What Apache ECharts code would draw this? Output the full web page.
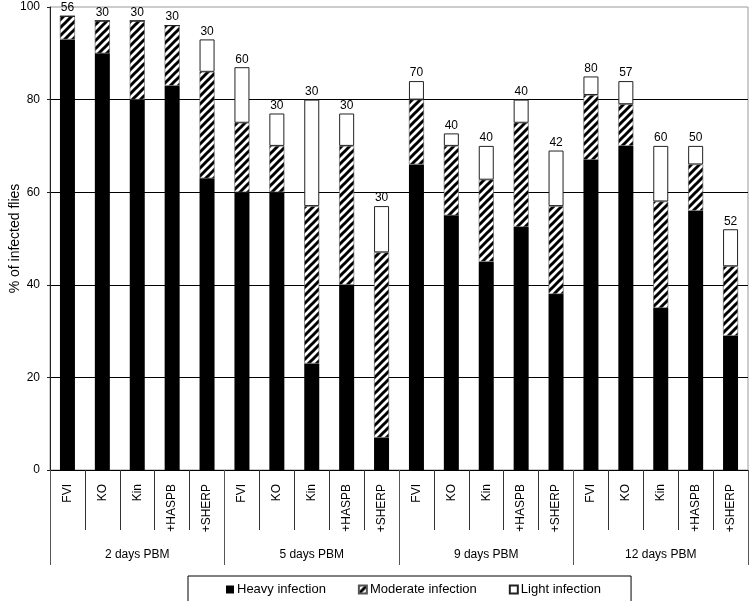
<!DOCTYPE html>
<html>
<head>
<meta charset="utf-8">
<style>html,body{margin:0;padding:0;background:#fff;}#chart{width:750px;height:601px;}</style>
<script src="https://cdn.jsdelivr.net/npm/echarts@6/dist/echarts.min.js"></script>
</head>
<body>
<div id="chart"></div>
<script>
// ---- data ----
const categories = ['FVI','KO','Kin','+HASPB','+SHERP','FVI','KO','Kin','+HASPB','+SHERP','FVI','KO','Kin','+HASPB','+SHERP','FVI','KO','Kin','+HASPB','+SHERP'];
const groups = ['2 days PBM','5 days PBM','9 days PBM','12 days PBM'];
const heavy    = [93,90,80,83,63, 60,60,23,40,7, 66,55,45,52.5,38, 67,70,35,56,29];
const moderate = [5,7,17,13,23, 15,10,34,30,40, 14,15,17.7,22.5,19, 14,9,23,10,15];
const light    = [0,0,0,0,7, 12,7,23,7,10, 4,2.7,7.3,5,12, 4,5,12,4,8];
const nFlies   = [56,30,30,30,30, 60,30,30,30,30, 70,40,40,40,42, 80,57,60,50,52];
const yTicks = [0,20,40,60,80,100];

// hatch pattern
const pc = document.createElement('canvas');
pc.width = 8; pc.height = 8;
const ctx = pc.getContext('2d');
ctx.fillStyle = '#fff'; ctx.fillRect(0,0,8,8);
ctx.strokeStyle = '#000'; ctx.lineWidth = 3;
[[-8,8,8,-8],[0,8,8,0],[0,16,16,0]].forEach(function(s){
  ctx.beginPath(); ctx.moveTo(s[0], s[1]); ctx.lineTo(s[2], s[3]); ctx.stroke();
});
const hatch = {image: pc, repeat: 'repeat'};

const FONT = 'Liberation Sans, Arial, sans-serif';
const chart = echarts.init(document.getElementById('chart'), null, {renderer:'canvas'});
const barBase = {type:'bar', stack:'s', barWidth:15, xAxisIndex:0, yAxisIndex:0};
chart.setOption({
  animation:false,
  backgroundColor:'#fff',
  textStyle:{fontFamily:FONT},
  grid:{left:50, right:2, top:7, bottom:131, show:true, borderColor:'#9a9a9a', borderWidth:1, outerBoundsMode:'none'},
  legend:{
    left:188, top:576, padding:[7,30,12,38],
    borderColor:'#000', borderWidth:1,
    itemWidth:8, itemHeight:8, itemGap:32,
    textStyle:{fontSize:13, color:'#000', fontFamily:FONT, padding:[0,0,0,-2]},
    data:[{name:'Heavy infection', icon:'rect'},{name:'Moderate infection', icon:'rect'},{name:'Light infection', icon:'rect'}]
  },
  xAxis:[
    {type:'category', data:categories, position:'bottom',
     axisLine:{show:true, lineStyle:{color:'#000', width:1}},
     axisTick:{show:true, length:60, interval:0, lineStyle:{color:'#333'}},
     axisLabel:{interval:0, rotate:90, margin:14, fontSize:12, color:'#000', fontFamily:FONT}},
    {type:'category', data:groups, position:'bottom',
     axisLine:{show:false},
     axisTick:{show:true, length:95, interval:0, lineStyle:{color:'#555'}},
     axisLabel:{interval:0, margin:79, fontSize:12, color:'#000', fontFamily:FONT}}
  ],
  yAxis:{
    type:'value', min:yTicks[0], max:yTicks[yTicks.length-1], interval:20,
    name:'% of infected flies', nameLocation:'middle', nameGap:28, nameMoveOverlap:false,
    nameTextStyle:{fontSize:14, color:'#000', fontFamily:FONT},
    axisLine:{show:true, lineStyle:{color:'#222'}},
    axisTick:{show:true, length:3, lineStyle:{color:'#222'}},
    axisLabel:{fontSize:12, color:'#000', margin:10, fontFamily:FONT},
    splitLine:{show:true, showMinLine:false, showMaxLine:false, lineStyle:{color:'#000', width:1}}
  },
  series:[
    Object.assign({}, barBase, {name:'Heavy infection', data:heavy,
      itemStyle:{color:'#000', borderColor:'#000', borderWidth:0}}),
    Object.assign({}, barBase, {name:'Moderate infection', data:moderate,
      itemStyle:{color:hatch, borderColor:'#555', borderWidth:0.6}}),
    Object.assign({}, barBase, {name:'Light infection', data:light,
      itemStyle:{color:'#fff', borderColor:'#222', borderWidth:1},
      label:{show:true, position:'top', distance:2, fontSize:12, color:'#000', fontFamily:FONT,
        formatter:function(p){return String(nFlies[p.dataIndex]);}}})
  ]
});
</script>
</body>
</html>
